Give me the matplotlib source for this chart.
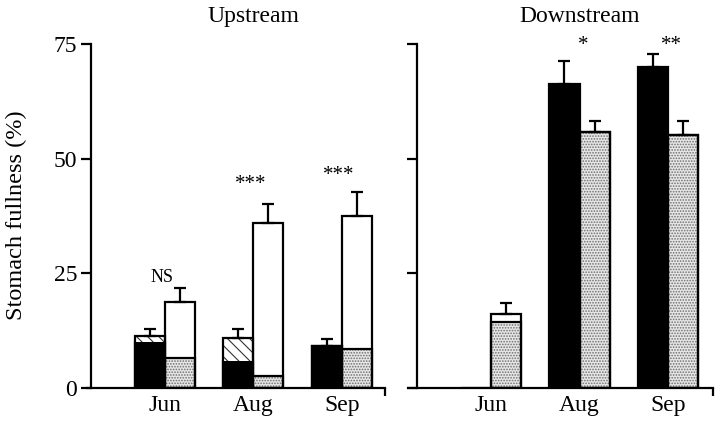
import numpy as np
import matplotlib
matplotlib.use("Agg")
from matplotlib import pyplot as plt

plt.rcParams['font.family'] = ['Liberation Serif', 'DejaVu Serif']
plt.rcParams['hatch.linewidth'] = 0.8

months = ["Jun", "Aug", "Sep"]

# upstream: black bar = solid bottom + hatched part on top, white bar = stippled bottom + open part
up_black = [10.0, 5.9, 9.2]
up_black_total = [11.3, 10.9, 9.2]
up_black_err = [1.6, 2.0, 1.5]
up_stip = [6.5, 2.6, 8.5]
up_white_total = [18.7, 36.0, 37.5]
up_white_err = [3.1, 4.1, 5.2]
up_sig = ["NS", "***", "***"]
up_sig_y = [24.2, 44.3, 46.4]

# downstream
dn_black = [0.0, 66.3, 70.0]
dn_black_err = [0.0, 5.0, 2.8]
dn_stip = [14.4, 55.8, 55.2]
dn_white_total = [16.1, 55.8, 55.2]
dn_white_err = [2.4, 2.4, 3.0]
dn_sig = ["", "*", "**"]
dn_sig_y = [0, 74.6, 74.6]

x = np.arange(1, len(months) + 1)
w = 0.34
lw = 1.6


def stipple(ax, xs, h, bottom=0):
    ax.bar(xs, h, w, bottom=bottom, color="#e6e6e6", edgecolor="#6f6f6f",
           hatch="......", linewidth=0, zorder=2)


def outline(ax, xs, h, bottom=0):
    ax.bar(xs, h, w, bottom=bottom, color="none", edgecolor="black",
           linewidth=lw, zorder=3)


def errs(ax, xs, top, e):
    for xi, t, ei in zip(xs, top, e):
        if ei <= 0:
            continue
        ax.errorbar(xi, t, yerr=[[0], [ei]], fmt="none", ecolor="black",
                    elinewidth=lw, capsize=4.5, capthick=lw, zorder=4)


def style(ax, xlo, xhi, spine_x, labels):
    ax.set_xlim(xlo, xhi)
    ax.set_ylim(0, 75)
    ax.spines['top'].set_visible(False)
    ax.spines['right'].set_visible(False)
    ax.spines['left'].set_position(('data', spine_x))
    ax.spines['left'].set_linewidth(lw)
    ax.spines['bottom'].set_linewidth(lw)
    ax.set_yticks([0, 25, 50, 75])
    ax.tick_params(axis='y', direction='out', length=7, width=lw,
                   labelsize=17, pad=3, labelleft=labels)
    ax.set_xticks(x)
    ax.set_xticklabels(months)
    ax.tick_params(axis='x', length=0, labelsize=17, pad=5)
    ax.set_xticks([xhi], minor=True)
    ax.tick_params(axis='x', which='minor', direction='out', length=6, width=lw)


fig = plt.figure(figsize=(7.18, 4.21), dpi=100)
ax1 = fig.add_axes([87 / 718, 33 / 421, 298 / 718, 344 / 421])
ax2 = fig.add_axes([408 / 718, 33 / 421, 305 / 718, 344 / 421])

# upstream
xb = x - w / 2
xw = x + w / 2
ax1.bar(xb, up_black, w, color="black", edgecolor="black", linewidth=lw, zorder=2)
hat = np.array(up_black_total) - np.array(up_black)
ax1.bar(xb, hat, w, bottom=up_black, color="white", edgecolor="#333333",
        hatch="\\\\\\", linewidth=0, zorder=2)
outline(ax1, xb, up_black_total)
errs(ax1, xb, up_black_total, up_black_err)
stipple(ax1, xw, up_stip)
outline(ax1, xw, up_stip)
outline(ax1, xw, up_white_total)
errs(ax1, xw, up_white_total, up_white_err)
for xi, s, sy in zip(x, up_sig, up_sig_y):
    fs = 13 if s == "NS" else 15
    ax1.text(xi - 0.03, sy, s, ha="center", va="center", fontsize=fs)
style(ax1, 0.12, 3.49, 0.165, True)
ax1.text(2, 80.9, "Upstream", ha="center", va="center", fontsize=17)

# downstream
ax2.bar(xb, dn_black, w, color="black", edgecolor="black", linewidth=lw, zorder=2)
errs(ax2, xb, dn_black, dn_black_err)
stipple(ax2, xw, dn_stip)
outline(ax2, xw, dn_stip)
outline(ax2, xw, dn_white_total)
errs(ax2, xw, dn_white_total, dn_white_err)
for xi, s, sy in zip(x, dn_sig, dn_sig_y):
    if s:
        ax2.text(xi + 0.04, sy, s, ha="center", va="center", fontsize=15)
style(ax2, 0.06, 3.51, 0.165, False)
ax2.text(2, 80.9, "Downstream", ha="center", va="center", fontsize=17)

fig.text(16 / 718, 1 - 215 / 421, "Stomach fullness (%)", rotation=90,
         ha="center", va="center", fontsize=17.5)

fig.savefig("out.png", dpi=100)
